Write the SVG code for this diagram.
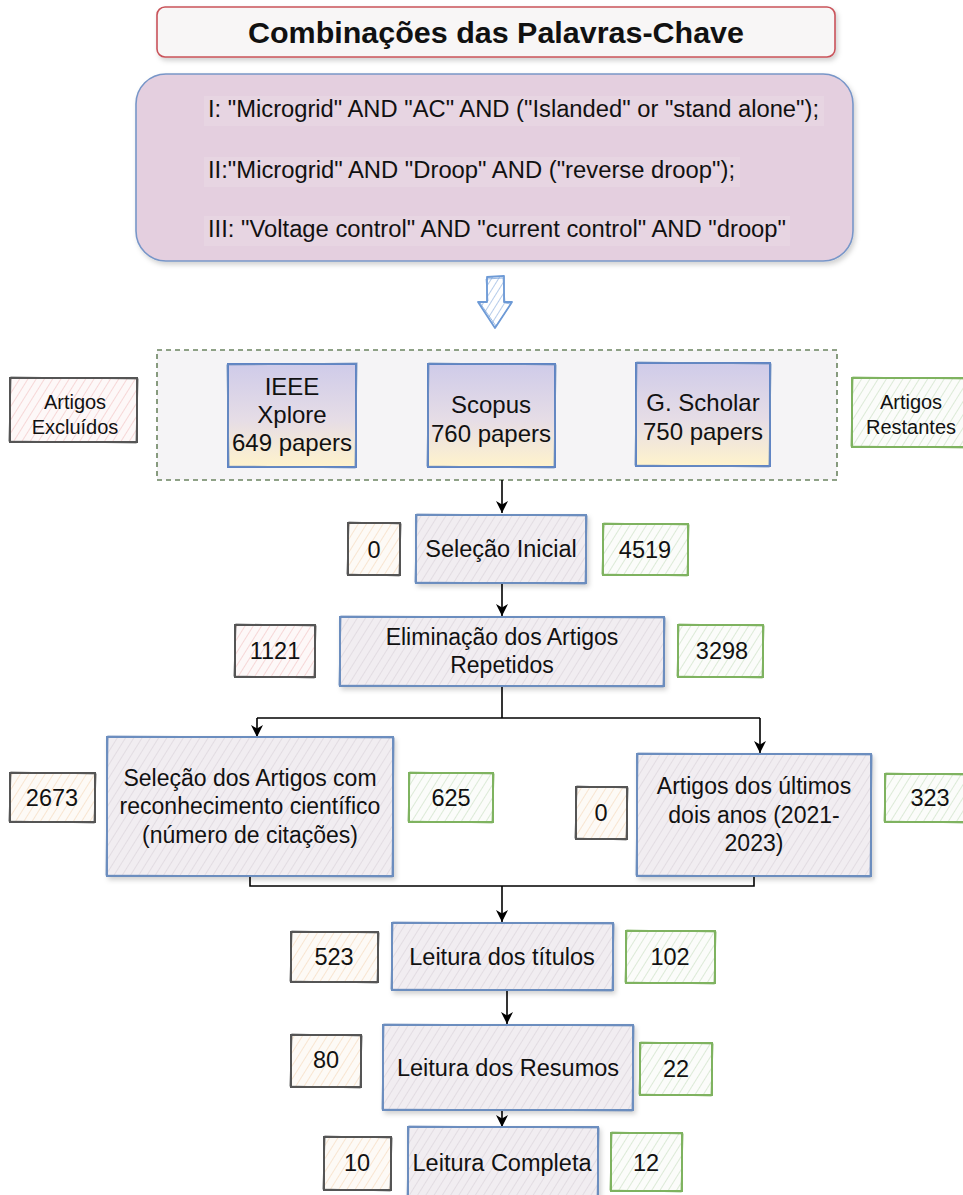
<svg xmlns="http://www.w3.org/2000/svg" width="963" height="1195" viewBox="0 0 963 1195">
  <defs>
    <style>
      text { font-family: "Liberation Sans", Arial, sans-serif; fill: #111; }
      .c { text-anchor: middle; }
      .t23 { font-size: 23.5px; }
      .t24 { font-size: 24px; }
      .t19 { font-size: 19.5px; }
      .proc { fill: url(#hGray); stroke: #6c8ebf; stroke-width: 2; }
      .grn { fill: url(#hGreen); stroke: #7fb360; stroke-width: 2; }
      .blk { fill: url(#hOrange); stroke: #555; stroke-width: 2; }
      .blkR { fill: url(#hPink); stroke: #555; stroke-width: 2; }
      .src { fill: url(#srcGrad); stroke: #5f84c4; stroke-width: 2; }
      .sk { fill: none; stroke-width: 1.2; opacity: 0.75; }
      .skB { stroke: #6c8ebf; }
      .skG { stroke: #7fb360; }
      .skK { stroke: #555; }
      .conn { fill: none; stroke: #000; stroke-width: 1.6; }
    </style>
    <pattern id="hGray" width="7" height="7" patternUnits="userSpaceOnUse" patternTransform="rotate(32)">
      <rect width="7" height="7" fill="#f1edf1"/>
      <line x1="0" y1="0" x2="0" y2="7" stroke="#dcd5dc" stroke-width="1.4"/>
    </pattern>
    <pattern id="hGreen" width="7" height="7" patternUnits="userSpaceOnUse" patternTransform="rotate(32)">
      <rect width="7" height="7" fill="#fbfcfa"/>
      <line x1="0" y1="0" x2="0" y2="7" stroke="#cfe3c8" stroke-width="1.4"/>
    </pattern>
    <pattern id="hOrange" width="7" height="7" patternUnits="userSpaceOnUse" patternTransform="rotate(32)">
      <rect width="7" height="7" fill="#fdfaf6"/>
      <line x1="0" y1="0" x2="0" y2="7" stroke="#f6dcc2" stroke-width="1.4"/>
    </pattern>
    <pattern id="hPink" width="7" height="7" patternUnits="userSpaceOnUse" patternTransform="rotate(32)">
      <rect width="7" height="7" fill="#fdf8f8"/>
      <line x1="0" y1="0" x2="0" y2="7" stroke="#f3c9c9" stroke-width="1.4"/>
    </pattern>
    <pattern id="hBlue" width="6" height="6" patternUnits="userSpaceOnUse" patternTransform="rotate(32)">
      <rect width="6" height="6" fill="#ffffff"/>
      <line x1="0" y1="0" x2="0" y2="6" stroke="#8fb0df" stroke-width="1.3"/>
    </pattern>
    <linearGradient id="srcGrad" x1="0" y1="0" x2="0" y2="1">
      <stop offset="0" stop-color="#cfcbe9"/>
      <stop offset="0.55" stop-color="#e6dde6"/>
      <stop offset="1" stop-color="#fff3cc"/>
    </linearGradient>
    <filter id="shadow" x="-10%" y="-10%" width="130%" height="140%">
      <feDropShadow dx="2" dy="3" stdDeviation="2.5" flood-color="#000" flood-opacity="0.18"/>
    </filter>
    <marker id="arr" viewBox="0 0 12 12" refX="12" refY="6" markerWidth="12" markerHeight="12" markerUnits="userSpaceOnUse" orient="auto">
      <path d="M0,0 L12,6 L0,12 L3.5,6 Z" fill="#000"/>
    </marker>
  </defs>

  <rect width="963" height="1195" fill="#ffffff"/>

  <!-- Title -->
  <g id="title">
    <rect x="157" y="7" width="678" height="50" rx="8" fill="#f8f6f6" stroke="#c9535a" stroke-width="1.6" filter="url(#shadow)"/>
    <text x="496" y="43" class="c" font-size="30" font-weight="bold" textLength="496" lengthAdjust="spacingAndGlyphs">Combinações das Palavras-Chave</text>
  </g>

  <!-- Keyword combinations -->
  <g id="keywords">
    <rect x="136" y="74" width="717" height="187" rx="30" fill="#e4cfdf" stroke="#7896c8" stroke-width="1.6" filter="url(#shadow)"/>
    <rect x="204" y="96" width="620" height="30" fill="#e7d5e2"/>
    <rect x="204" y="157" width="536" height="30" fill="#e7d5e2"/>
    <rect x="204" y="216" width="586" height="30" fill="#e7d5e2"/>
    <text x="208" y="117" font-size="23" textLength="611" lengthAdjust="spacingAndGlyphs">I: "Microgrid" AND "AC" AND ("Islanded" or "stand alone");</text>
    <text x="208" y="178" font-size="23" textLength="527" lengthAdjust="spacingAndGlyphs">II:"Microgrid" AND "Droop" AND ("reverse droop");</text>
    <text x="208" y="237" font-size="23" textLength="578" lengthAdjust="spacingAndGlyphs">III: "Voltage control" AND "current control" AND "droop"</text>
  </g>

  <!-- Hatched block arrow -->
  <g id="blockArrow">
    <polygon points="487,277 504,276 504,302 512,302 495,328 478,302 487,302" fill="url(#hBlue)" stroke="#6d9ad6" stroke-width="1.8" stroke-linejoin="round"/>
    <polyline points="486,279 503,278 505,303 511,304 496,326 480,303 488,301 486,279" fill="none" stroke="#6d9ad6" stroke-width="1" opacity="0.7"/>
  </g>

  <!-- Databases container -->
  <g id="databases">
    <rect x="157" y="350" width="680" height="130" fill="#f5f4f6" stroke="#6b8460" stroke-width="1.6" stroke-dasharray="5 4"/>
  </g>

  <g id="ieee">
    <rect x="228" y="364" width="128" height="103" class="src"/>
    <path d="M227,365 L357,363 L355,468 L229,466 Z" class="sk skB"/>
    <text x="292" y="395" class="c t24">IEEE</text>
    <text x="292" y="423" class="c t24">Xplore</text>
    <text x="292" y="451" class="c t24">649 papers</text>
  </g>
  <g id="scopus">
    <rect x="428" y="364" width="127" height="103" class="src"/>
    <path d="M429,363 L556,365 L554,468 L427,466 Z" class="sk skB"/>
    <text x="491" y="413" class="c t24">Scopus</text>
    <text x="491" y="442" class="c t24">760 papers</text>
  </g>
  <g id="scholar">
    <rect x="636" y="363" width="134" height="103" class="src"/>
    <path d="M637,362 L771,364 L769,467 L635,465 Z" class="sk skB"/>
    <text x="703" y="411" class="c t24">G. Scholar</text>
    <text x="703" y="440" class="c t24">750 papers</text>
  </g>

  <g id="legendExcluded">
    <rect x="10" y="378" width="127" height="64" class="blkR"/>
    <path d="M11,377 L138,379 L136,443 L9,441 Z" class="sk skK"/>
    <text x="75" y="409" class="c" font-size="20">Artigos</text>
    <text x="75" y="434" class="c" font-size="20">Excluídos</text>
  </g>
  <g id="legendRemaining">
    <rect x="852" y="378" width="120" height="69" class="grn"/>
    <path d="M853,377 L972,379 L972,448 L851,446 Z" class="sk skG"/>
    <text x="911" y="409" class="c" font-size="20">Artigos</text>
    <text x="911" y="434" class="c" font-size="20">Restantes</text>
  </g>

  <!-- Connectors -->
  <g id="connectors">
    <line x1="502" y1="480" x2="502" y2="513" class="conn" marker-end="url(#arr)"/>
    <line x1="502" y1="583" x2="502" y2="616" class="conn" marker-end="url(#arr)"/>
    <polyline points="502,686 502,718" class="conn"/>
    <polyline points="257,718 760,718" class="conn"/>
    <line x1="257" y1="718" x2="257" y2="737" class="conn" marker-end="url(#arr)"/>
    <line x1="760" y1="718" x2="760" y2="753" class="conn" marker-end="url(#arr)"/>
    <polyline points="250,876 250,886 754,886 754,876" class="conn"/>
    <line x1="502" y1="886" x2="502" y2="922" class="conn" marker-end="url(#arr)"/>
    <line x1="507" y1="990" x2="507" y2="1024" class="conn" marker-end="url(#arr)"/>
    <line x1="502" y1="1110" x2="502" y2="1127" class="conn" marker-end="url(#arr)"/>
  </g>

  <!-- Stage: initial selection -->
  <g id="selecaoInicial">
    <rect x="416" y="515" width="170" height="68" class="proc" filter="url(#shadow)"/>
    <path d="M417,514 L587,516 L585,584 L415,582 Z" class="sk skB"/>
    <text x="501" y="557" class="c t23">Seleção Inicial</text>
  </g>
  <g id="exc0">
    <rect x="348" y="523" width="52" height="52" class="blk"/>
    <path d="M349,522 L401,524 L399,576 L347,574 Z" class="sk skK"/>
    <text x="374" y="558" class="c t23">0</text>
  </g>
  <g id="rem4519">
    <rect x="603" y="524" width="85" height="51" class="grn"/>
    <path d="M604,523 L689,525 L687,576 L602,574 Z" class="sk skG"/>
    <text x="645" y="558" class="c t23">4519</text>
  </g>

  <!-- Stage: duplicate removal -->
  <g id="eliminacao">
    <rect x="340" y="617" width="324" height="69" class="proc" filter="url(#shadow)"/>
    <path d="M341,616 L665,618 L663,687 L339,685 Z" class="sk skB"/>
    <text x="502" y="645" class="c" font-size="23">Eliminação dos Artigos</text>
    <text x="502" y="673" class="c" font-size="23">Repetidos</text>
  </g>
  <g id="exc1121">
    <rect x="235" y="625" width="80" height="52" class="blkR"/>
    <path d="M236,624 L316,626 L314,678 L234,676 Z" class="sk skK"/>
    <text x="275" y="659" class="c t23">1121</text>
  </g>
  <g id="rem3298">
    <rect x="678" y="625" width="85" height="52" class="grn"/>
    <path d="M679,624 L764,626 L762,678 L677,676 Z" class="sk skG"/>
    <text x="722" y="659" class="c t23">3298</text>
  </g>

  <!-- Stage: citations -->
  <g id="citacoes">
    <rect x="107" y="737" width="286" height="139" class="proc" filter="url(#shadow)"/>
    <path d="M108,736 L394,738 L392,877 L106,875 Z" class="sk skB"/>
    <text x="250" y="786" class="c" font-size="23">Seleção dos Artigos com</text>
    <text x="250" y="814" class="c" font-size="23">reconhecimento científico</text>
    <text x="250" y="843" class="c" font-size="23">(número de citações)</text>
  </g>
  <g id="exc2673">
    <rect x="10" y="773" width="85" height="49" class="blk"/>
    <path d="M11,772 L96,774 L94,823 L9,821 Z" class="sk skK"/>
    <text x="52" y="806" class="c t23">2673</text>
  </g>
  <g id="rem625">
    <rect x="409" y="773" width="84" height="49" class="grn"/>
    <path d="M410,772 L494,774 L492,823 L408,821 Z" class="sk skG"/>
    <text x="451" y="806" class="c t23">625</text>
  </g>

  <!-- Stage: recent years -->
  <g id="recentes">
    <rect x="637" y="754" width="234" height="122" class="proc" filter="url(#shadow)"/>
    <path d="M638,753 L872,755 L870,877 L636,875 Z" class="sk skB"/>
    <text x="754" y="794" class="c" font-size="23">Artigos dos últimos</text>
    <text x="754" y="823" class="c" font-size="23">dois anos (2021-</text>
    <text x="754" y="851" class="c" font-size="23">2023)</text>
  </g>
  <g id="exc0b">
    <rect x="576" y="787" width="51" height="52" class="blk"/>
    <path d="M577,786 L628,788 L626,840 L575,838 Z" class="sk skK"/>
    <text x="601" y="821" class="c t23">0</text>
  </g>
  <g id="rem323">
    <rect x="885" y="774" width="85" height="48" class="grn"/>
    <path d="M886,773 L971,775 L971,823 L884,821 Z" class="sk skG"/>
    <text x="930" y="806" class="c t23">323</text>
  </g>

  <!-- Stage: titles -->
  <g id="titulos">
    <rect x="392" y="923" width="221" height="67" class="proc" filter="url(#shadow)"/>
    <path d="M393,922 L614,924 L612,991 L391,989 Z" class="sk skB"/>
    <text x="502" y="965" class="c t23">Leitura dos títulos</text>
  </g>
  <g id="exc523">
    <rect x="291" y="932" width="87" height="50" class="blk"/>
    <path d="M292,931 L379,933 L377,983 L290,981 Z" class="sk skK"/>
    <text x="334" y="965" class="c t23">523</text>
  </g>
  <g id="rem102">
    <rect x="626" y="931" width="89" height="52" class="grn"/>
    <path d="M627,930 L716,932 L714,984 L625,982 Z" class="sk skG"/>
    <text x="670" y="965" class="c t23">102</text>
  </g>

  <!-- Stage: abstracts -->
  <g id="resumos">
    <rect x="383" y="1025" width="250" height="85" class="proc" filter="url(#shadow)"/>
    <path d="M384,1024 L634,1026 L632,1111 L382,1109 Z" class="sk skB"/>
    <text x="508" y="1076" class="c t23">Leitura dos Resumos</text>
  </g>
  <g id="exc80">
    <rect x="291" y="1035" width="70" height="52" class="blk"/>
    <path d="M292,1034 L362,1036 L360,1088 L290,1086 Z" class="sk skK"/>
    <text x="326" y="1068" class="c t23">80</text>
  </g>
  <g id="rem22">
    <rect x="640" y="1043" width="72" height="52" class="grn"/>
    <path d="M641,1042 L713,1044 L711,1096 L639,1094 Z" class="sk skG"/>
    <text x="676" y="1077" class="c t23">22</text>
  </g>

  <!-- Stage: full reading -->
  <g id="completa">
    <rect x="408" y="1127" width="190" height="75" class="proc" filter="url(#shadow)"/>
    <path d="M409,1126 L599,1128 L597,1203 L407,1201 Z" class="sk skB"/>
    <text x="502" y="1171" class="c t23">Leitura Completa</text>
  </g>
  <g id="exc10">
    <rect x="324" y="1137" width="67" height="53" class="blk"/>
    <path d="M325,1136 L392,1138 L390,1191 L323,1189 Z" class="sk skK"/>
    <text x="357" y="1171" class="c t23">10</text>
  </g>
  <g id="rem12">
    <rect x="611" y="1133" width="71" height="58" class="grn"/>
    <path d="M612,1132 L683,1134 L681,1192 L610,1190 Z" class="sk skG"/>
    <text x="646" y="1171" class="c t23">12</text>
  </g>
</svg>
